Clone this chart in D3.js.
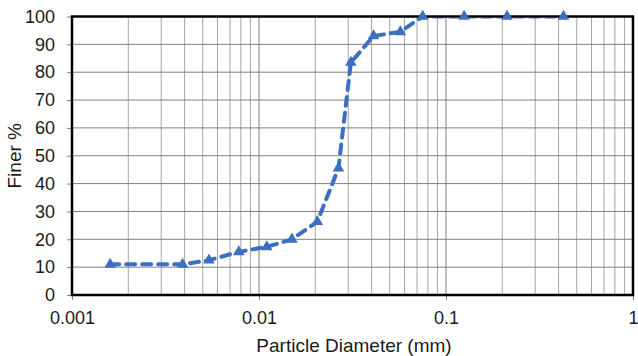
<!DOCTYPE html>
<html>
<head>
<meta charset="utf-8">
<script src="https://cdn.jsdelivr.net/npm/d3@7"></script>
<style>
  html, body { margin: 0; padding: 0; background: #fff; }
  svg { display: block; font-family: "Liberation Sans", Arial, sans-serif; }
</style>
</head>
<body>
<svg id="chart" width="638" height="356"></svg>
<script>
// Grain size distribution (hydrometer + sieve)
const diameterMm = [0.0016, 0.0039, 0.0054, 0.0078, 0.011, 0.015, 0.0205, 0.0266, 0.031, 0.041, 0.057, 0.075, 0.125, 0.212, 0.425];
const finerPct   = [11, 11, 12.5, 15.5, 17.3, 20, 26.3, 45.5, 83.5, 93, 94.5, 100, 100, 100, 100];
const xTickValues = [0.001, 0.01, 0.1, 1];
const xTickLabels = ["0.001", "0.01", "0.1", "1"];
const yTickValues = [0, 10, 20, 30, 40, 50, 60, 70, 80, 90, 100];

const W = 638, H = 356;
const m = { top: 16.5, right: 5, bottom: 61, left: 72 };
const textColor = "#1a1a1a";
const fontSize = "18px";
const svg = d3.select("#chart");

const x = d3.scaleLog().domain([0.001, 1]).range([m.left, W - m.right]);
const y = d3.scaleLinear().domain([0, 100]).range([H - m.bottom, m.top]);

// clip region for the series line (plot area)
svg.append("defs").append("clipPath").attr("id", "plotClip")
  .append("rect")
  .attr("x", x(0.001)).attr("y", y(100) + 1.2)
  .attr("width", x(1) - x(0.001)).attr("height", y(0) - y(100) - 1.2);

// minor + major vertical grid
const minor = [];
for (let d = 0.001; d < 1 - 1e-9; d *= 10) {
  for (let k = 2; k <= 9; k++) minor.push(d * k);
}
svg.append("g").selectAll("line").data(minor).join("line")
  .attr("x1", d => x(d)).attr("x2", d => x(d))
  .attr("y1", y(0)).attr("y2", y(100))
  .attr("stroke", "#a6a6a6").attr("stroke-width", 1);

svg.append("g").selectAll("line").data(xTickValues).join("line")
  .attr("x1", d => x(d)).attr("x2", d => x(d))
  .attr("y1", y(0)).attr("y2", y(100))
  .attr("stroke", "#7f7f7f").attr("stroke-width", 1);

// horizontal grid
svg.append("g").selectAll("line").data(yTickValues).join("line")
  .attr("x1", x(0.001)).attr("x2", x(1))
  .attr("y1", d => y(d)).attr("y2", d => y(d))
  .attr("stroke", "#7f7f7f").attr("stroke-width", 1);

// axes
const xAxis = d3.axisBottom(x).tickValues(xTickValues)
  .tickFormat((d, i) => xTickLabels[i]).tickSize(5).tickPadding(11);
const gx = svg.append("g").attr("transform", `translate(0,${y(0)})`).call(xAxis);
gx.select(".domain").remove();
gx.selectAll(".tick line").attr("stroke", "#7f7f7f");
gx.selectAll("text").attr("font-size", fontSize).attr("fill", textColor)
  .attr("font-family", "Liberation Sans, Arial, sans-serif");

const yAxis = d3.axisLeft(y).tickValues(yTickValues).tickSize(5).tickPadding(12);
const gy = svg.append("g").attr("transform", `translate(${x(0.001)},0)`).call(yAxis);
gy.select(".domain").remove();
gy.selectAll(".tick line").attr("stroke", "#7f7f7f");
gy.selectAll("text").attr("font-size", fontSize).attr("fill", textColor)
  .attr("font-family", "Liberation Sans, Arial, sans-serif");

// axis titles
svg.append("text")
  .attr("x", 354).attr("y", 351.5)
  .attr("text-anchor", "middle").attr("font-size", "19px").attr("fill", textColor)
  .text("Particle Diameter (mm)");
svg.append("text")
  .attr("transform", `translate(21,${(y(0) + y(100)) / 2}) rotate(-90)`)
  .attr("text-anchor", "middle").attr("font-size", "19px").attr("fill", textColor)
  .text("Finer %");

// curve
const pts = diameterMm.map((d, i) => [d, finerPct[i]]);
const color = "#3a6fc2";
svg.append("path")
  .datum(pts)
  .attr("clip-path", "url(#plotClip)")
  .attr("d", d3.line().x(d => x(d[0])).y(d => y(d[1])))
  .attr("fill", "none").attr("stroke", color).attr("stroke-width", 4)
  .attr("stroke-dasharray", "9,7").attr("stroke-linecap", "round");

// plot frame
svg.append("rect")
  .attr("x", x(0.001)).attr("y", y(100))
  .attr("width", x(1) - x(0.001)).attr("height", y(0) - y(100))
  .attr("fill", "none").attr("stroke", "#000").attr("stroke-width", 2.5);

// markers
svg.append("g").selectAll("path").data(pts).join("path")
  .attr("transform", d => `translate(${x(d[0])},${y(d[1])})`)
  .attr("d", d3.symbol(d3.symbolTriangle, 58))
  .attr("fill", color);
</script>
</body>
</html>
